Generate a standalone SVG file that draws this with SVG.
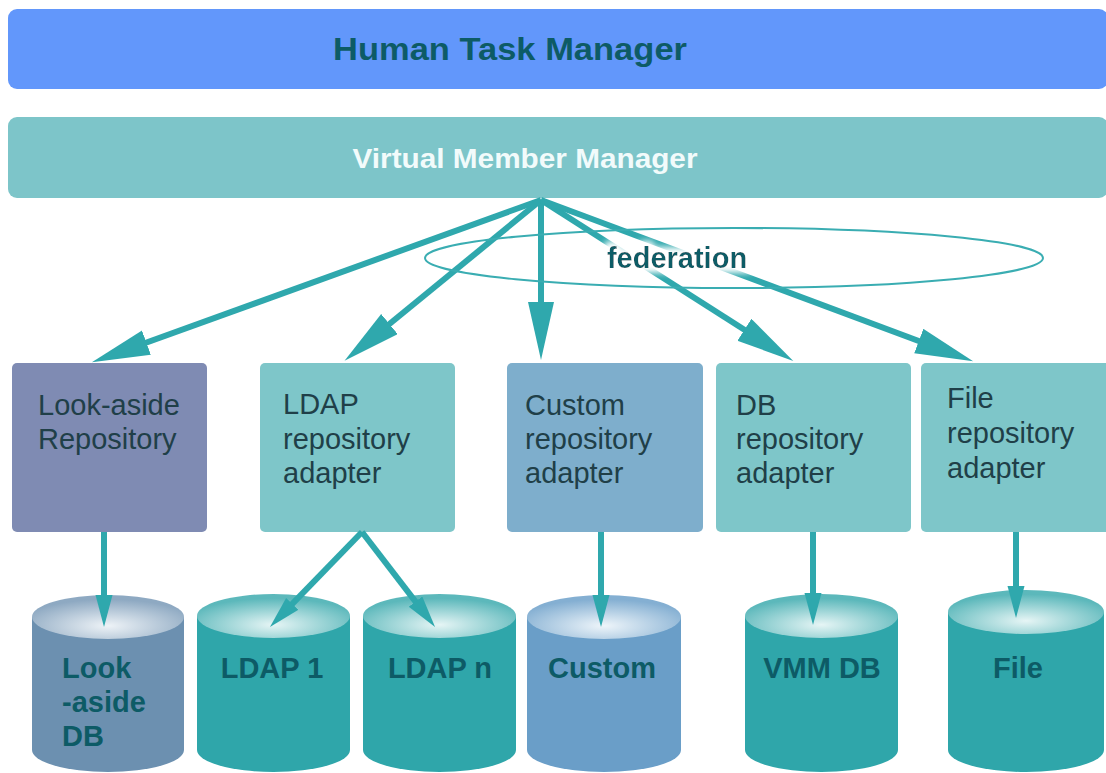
<svg xmlns="http://www.w3.org/2000/svg" width="1106" height="773" viewBox="0 0 1106 773">
  <style>
    .bar-title { font-family: "Liberation Sans", Arial, sans-serif; font-weight: bold; }
    .box-text { font-family: "Liberation Sans", Arial, sans-serif; font-size: 29px; fill: #203f48; }
    .db-text { font-family: "Liberation Sans", Arial, sans-serif; font-size: 29px; font-weight: bold; fill: #0d5b66; }
    .conn { stroke: #2fa8ad; stroke-width: 6; fill: none; }
    .conn-big { marker-end: url(#headBig); }
    .conn-small { marker-end: url(#headSmall); }
  </style>
  <defs>
    <marker id="headBig" markerUnits="userSpaceOnUse" markerWidth="60" markerHeight="28" refX="30" refY="13" orient="auto">
      <path d="M0,0 L58,13 L0,26 Z" fill="#2fa8ad"/>
    </marker>
    <marker id="headSmall" markerUnits="userSpaceOnUse" markerWidth="34" markerHeight="18" refX="17" refY="8.5" orient="auto">
      <path d="M0,0 L32,8.5 L0,17 Z" fill="#2fa8ad"/>
    </marker>
    <radialGradient id="topTeal" cx="50%" cy="70%" r="60%">
      <stop offset="0" stop-color="#e6f5f5"/>
      <stop offset="1" stop-color="#5cb8bb"/>
    </radialGradient>
    <radialGradient id="topSlate" cx="50%" cy="70%" r="60%">
      <stop offset="0" stop-color="#eef3f7"/>
      <stop offset="1" stop-color="#8ea9c2"/>
    </radialGradient>
    <radialGradient id="topBlue" cx="50%" cy="70%" r="60%">
      <stop offset="0" stop-color="#eef5fa"/>
      <stop offset="1" stop-color="#84afd2"/>
    </radialGradient>
    <filter id="halo" x="-20%" y="-40%" width="140%" height="180%">
      <feMorphology in="SourceAlpha" operator="dilate" radius="5" result="grow"/>
      <feGaussianBlur in="grow" stdDeviation="3" result="soft"/>
      <feFlood flood-color="#ffffff" result="white"/>
      <feComposite in="white" in2="soft" operator="in" result="glow"/>
      <feMerge>
        <feMergeNode in="glow"/>
        <feMergeNode in="SourceGraphic"/>
      </feMerge>
    </filter>
  </defs>

  <rect width="1106" height="773" fill="#ffffff"/>

  <!-- top layer -->
  <g id="human-task-manager">
    <rect x="8" y="9" width="1100" height="80" rx="9" fill="#6297fb"/>
    <text class="bar-title" x="510" y="60" font-size="31" fill="#0d5b66" text-anchor="middle" textLength="354" lengthAdjust="spacingAndGlyphs">Human Task Manager</text>
  </g>

  <g id="virtual-member-manager">
    <rect x="8" y="117" width="1100" height="81" rx="9" fill="#7dc5c9"/>
    <text class="bar-title" x="525" y="168" font-size="28" fill="#f2fbfb" text-anchor="middle" textLength="345" lengthAdjust="spacingAndGlyphs">Virtual Member Manager</text>
  </g>

  <!-- repositories and adapters -->
  <g id="lookaside-repository">
    <rect x="12" y="363" width="195" height="169" rx="5" fill="#7f8bb3"/>
    <text class="box-text" x="38" y="415">Look-aside</text>
    <text class="box-text" x="38" y="449">Repository</text>
  </g>

  <g id="ldap-adapter">
    <rect x="260" y="363" width="195" height="169" rx="5" fill="#7ec6c9"/>
    <text class="box-text" x="283" y="414">LDAP</text>
    <text class="box-text" x="283" y="449">repository</text>
    <text class="box-text" x="283" y="483">adapter</text>
  </g>

  <g id="custom-adapter">
    <rect x="507" y="363" width="196" height="169" rx="5" fill="#7eaecc"/>
    <text class="box-text" x="525" y="415">Custom</text>
    <text class="box-text" x="525" y="449">repository</text>
    <text class="box-text" x="525" y="483">adapter</text>
  </g>

  <g id="db-adapter">
    <rect x="716" y="363" width="195" height="169" rx="5" fill="#7ec6c9"/>
    <text class="box-text" x="736" y="415">DB</text>
    <text class="box-text" x="736" y="449">repository</text>
    <text class="box-text" x="736" y="483">adapter</text>
  </g>

  <g id="file-adapter">
    <rect x="921" y="363" width="190" height="169" rx="5" fill="#7ec6c9"/>
    <text class="box-text" x="947" y="408">File</text>
    <text class="box-text" x="947" y="443">repository</text>
    <text class="box-text" x="947" y="478">adapter</text>
  </g>

  <!-- data stores -->
  <g id="lookaside-db">
    <path d="M32,617 L32,750 A76,22 0 0 0 184,750 L184,617 Z" fill="#6c90b0"/>
    <ellipse cx="108" cy="617" rx="76" ry="22" fill="url(#topSlate)"/>
    <text class="db-text" x="62" y="678">Look</text>
    <text class="db-text" x="62" y="712">-aside</text>
    <text class="db-text" x="62" y="746">DB</text>
  </g>

  <g id="ldap-1">
    <path d="M197,616 L197,750 A76.5,22 0 0 0 350,750 L350,616 Z" fill="#2fa6aa"/>
    <ellipse cx="273.5" cy="616" rx="76.5" ry="22" fill="url(#topTeal)"/>
    <text class="db-text" x="272" y="678" text-anchor="middle">LDAP 1</text>
  </g>

  <g id="ldap-n">
    <path d="M363,616 L363,750 A76.5,22 0 0 0 516,750 L516,616 Z" fill="#2fa6aa"/>
    <ellipse cx="439.5" cy="616" rx="76.5" ry="22" fill="url(#topTeal)"/>
    <text class="db-text" x="440" y="678" text-anchor="middle">LDAP n</text>
  </g>

  <g id="custom-db">
    <path d="M527,617 L527,750 A77,22 0 0 0 681,750 L681,617 Z" fill="#6a9ec8"/>
    <ellipse cx="604" cy="617" rx="77" ry="22" fill="url(#topBlue)"/>
    <text class="db-text" x="602" y="678" text-anchor="middle">Custom</text>
  </g>

  <g id="vmm-db">
    <path d="M745,616 L745,750 A76.5,22 0 0 0 898,750 L898,616 Z" fill="#2fa6aa"/>
    <ellipse cx="821.5" cy="616" rx="76.5" ry="22" fill="url(#topTeal)"/>
    <text class="db-text" x="822" y="678" text-anchor="middle">VMM DB</text>
  </g>

  <g id="file-db">
    <path d="M948,612 L948,750 A78,22 0 0 0 1104,750 L1104,612 Z" fill="#2fa6aa"/>
    <ellipse cx="1026" cy="612" rx="78" ry="22" fill="url(#topTeal)"/>
    <text class="db-text" x="1018" y="678" text-anchor="middle">File</text>
  </g>

  <!-- connectors, drawn over the stores so the heads land on the lids -->
  <g id="connectors">
    <line class="conn conn-big" x1="541" y1="200" x2="118.2" y2="352.8"/>
    <line class="conn conn-big" x1="541" y1="200" x2="366.2" y2="343"/>
    <line class="conn conn-big" x1="541" y1="200" x2="541" y2="332"/>
    <line class="conn conn-big" x1="541" y1="200" x2="769.7" y2="345.9"/>
    <line class="conn conn-big" x1="541" y1="200" x2="946.9" y2="351.5"/>

    <line class="conn conn-small" x1="104" y1="532" x2="104" y2="612"/>
    <line class="conn conn-small" x1="362" y1="532" x2="280.4" y2="616.2"/>
    <line class="conn conn-small" x1="362" y1="532" x2="425.9" y2="615.1"/>
    <line class="conn conn-small" x1="601" y1="532" x2="601" y2="612"/>
    <line class="conn conn-small" x1="813" y1="532" x2="813" y2="610"/>
    <line class="conn conn-small" x1="1016" y1="532" x2="1016" y2="603"/>
  </g>

  <!-- federation ring -->
  <g id="federation">
    <ellipse cx="734" cy="258" rx="309" ry="30" fill="none" stroke="#3aadb2" stroke-width="2"/>
    <text x="677" y="268" font-family="'Liberation Sans', Arial, sans-serif" font-size="29" font-weight="bold" fill="#0d5b66" text-anchor="middle" filter="url(#halo)">federation</text>
  </g>
</svg>
